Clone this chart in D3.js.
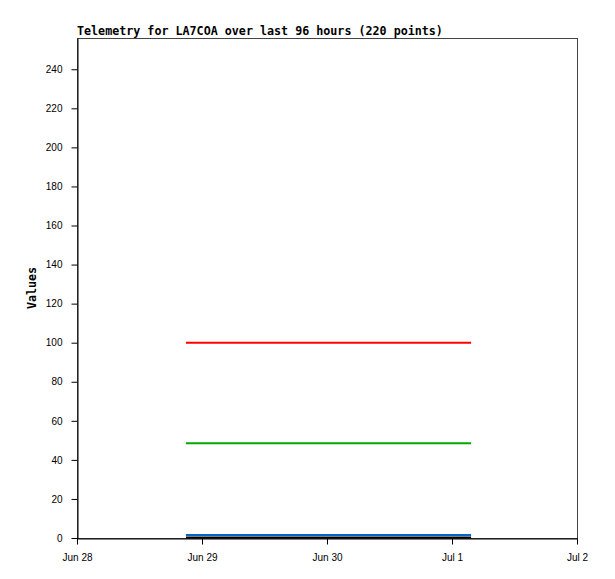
<!DOCTYPE html>
<html><head><meta charset="utf-8">
<script src="https://cdn.jsdelivr.net/npm/d3@7"></script>
<style>body{margin:0;background:#fff}svg{display:block}</style>
</head><body>
<svg id="c" width="615" height="579"></svg>
<script>
const title = "Telemetry for LA7COA over last 96 hours (220 points)";
const yLabel = "Values";
const xDomain = ["2024-06-28T00:00", "2024-07-02T00:00"];
const yDomain = [0, 256];
const yTicks = [0, 20, 40, 60, 80, 100, 120, 140, 160, 180, 200, 220, 240];
const xTicks = ["2024-06-28", "2024-06-29", "2024-06-30", "2024-07-01", "2024-07-02"];
const times = ["2024-06-28T20:55", "2024-07-01T03:40"];
const redValues = [100, 100];
const greenValues = [48.5, 48.5];
const blueValues = [1.6, 1.6];
const blackValues = [0.3, 0.3];
const seriesColors = ["#000000", "#0066cc", "#00aa00", "#ff0000"];

const svg = d3.select("#c");
const m = {l: 77, r: 38, t: 38, b: 41};
const W = 615, H = 579;
const parse = d3.utcParse("%Y-%m-%dT%H:%M");
const parseD = d3.utcParse("%Y-%m-%d");
const x = d3.scaleUtc().domain(xDomain.map(parse)).range([m.l, W - m.r]);
const y = d3.scaleLinear().domain(yDomain).range([H - m.b, m.t]);

// frame
svg.append("rect").attr("x", m.l + 0.5).attr("y", m.t + 0.5)
  .attr("width", W - m.r - m.l).attr("height", H - m.b - m.t)
  .attr("fill", "none").attr("stroke", "#444").attr("stroke-width", 1);

const series = [blackValues, blueValues, greenValues, redValues];
const line = d3.line().x(d => x(d.t)).y(d => y(d.v));
series.forEach((vals, i) => {
  const pts = times.map((t, j) => ({t: parse(t), v: vals[j]}));
  svg.append("path").datum(pts).attr("d", line)
    .attr("fill", "none").attr("stroke", seriesColors[i]).attr("stroke-width", 2);
});

const font = "'Liberation Sans', Arial, sans-serif";
const yAxis = svg.append("g").attr("transform", `translate(${m.l + 0.5},0)`)
  .call(d3.axisLeft(y).tickValues(yTicks).tickSize(6).tickPadding(9).tickSizeOuter(0));
const xAxis = svg.append("g").attr("transform", `translate(0,${H - m.b + 0.5})`)
  .call(d3.axisBottom(x).tickValues(xTicks.map(parseD)).tickFormat(d3.utcFormat("%b %-d")).tickSize(6).tickPadding(9).tickSizeOuter(0));
[yAxis, xAxis].forEach(a => {
  a.select(".domain").attr("stroke", "#000");
  a.selectAll(".tick line").attr("stroke", "#000");
  a.selectAll("text").attr("font-family", font).attr("font-size", 10).attr("fill", "#000");
});

svg.append("text").attr("x", m.l).attr("y", 35)
  .attr("font-family", "'DejaVu Sans Mono', monospace").attr("font-weight", "bold")
  .attr("font-size", 11.7).text(title);
svg.append("text").attr("transform", `translate(36,${(m.t + H - m.b) / 2}) rotate(-90)`)
  .attr("text-anchor", "middle")
  .attr("font-family", "'DejaVu Sans Mono', monospace").attr("font-weight", "bold")
  .attr("font-size", 11.7).text(yLabel);
</script>
</body></html>
